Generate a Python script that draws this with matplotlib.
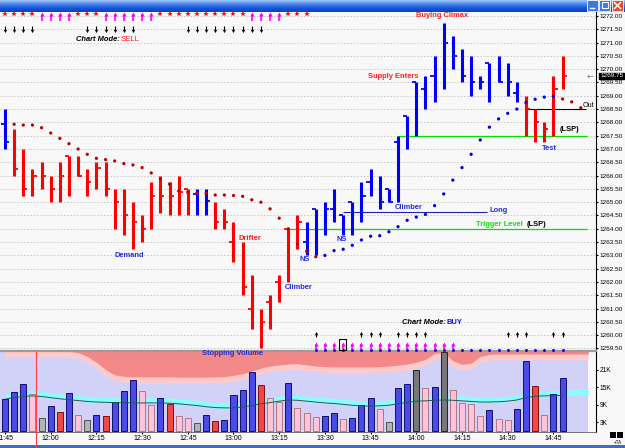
import numpy as np
import matplotlib
matplotlib.use('Agg')
import matplotlib.pyplot as plt
from matplotlib.patches import Rectangle
from matplotlib.lines import Line2D
from matplotlib.colors import LinearSegmentedColormap

plt.rcParams['font.family'] = ['Liberation Sans', 'DejaVu Sans']

W, H = 625, 448
nan = np.nan

# price bars (3 min)
highs = [1268.5, 1267.75, 1267.0, 1266.25, 1266.5, 1266.0, 1266.5, 1266.75, 1266.75, 1266.25,
         1266.5, 1266.5, 1265.5, 1265.5, 1265.0, 1264.5, 1265.75, 1266.0, 1265.75, 1266.0,
         1265.5, 1265.5, 1265.5, 1265.0, 1264.75, 1264.25, 1263.5, 1262.25, 1261.0, 1261.5,
         1262.25, 1264.0, 1264.5, 1264.25, 1264.75, 1265.0, 1265.5, 1264.5, 1265.0, 1265.75,
         1266.25, 1266.0, 1265.5, 1267.5, 1268.25, 1269.5, 1269.75, 1270.5, 1271.75, 1271.25,
         1270.75, 1270.5, 1269.75, 1270.25, 1270.5, 1270.25, 1269.5, 1269.0, 1268.5, 1268.0,
         1269.75, 1270.5]
lows = [1267.0, 1266.0, 1265.25, 1265.25, 1265.5, 1265.0, 1265.0, 1265.25, 1266.0, 1265.25,
        1265.5, 1265.25, 1264.0, 1263.75, 1263.25, 1263.5, 1264.0, 1264.6, 1264.5, 1264.5,
        1264.5, 1264.5, 1264.5, 1264.0, 1264.0, 1262.75, 1261.5, 1260.25, 1259.5, 1260.25,
        1261.25, 1262.0, 1263.25, 1263.0, 1263.0, 1263.75, 1264.25, 1263.75, 1263.75, 1264.25,
        1265.25, 1264.75, 1265.0, 1265.0, 1267.0, 1267.5, 1268.5, 1268.75, 1269.25, 1270.0,
        1269.5, 1269.0, 1269.25, 1268.75, 1269.5, 1269.0, 1268.75, 1267.5, 1267.25, 1267.25,
        1267.5, 1269.25]
opens = [1267.95, nan, nan, nan, nan, nan, nan, 1266.75, nan, nan,
         nan, nan, nan, nan, nan, nan, nan, nan, nan, nan,
         1265.5, 1265.3, nan, nan, nan, 1263.5, nan, 1261.0, nan, 1261.25,
         1262.0, 1264.0, nan, 1263.5, 1264.75, nan, 1264.75, 1264.5, 1265.0, nan,
         1265.75, nan, 1265.5, 1267.25, 1268.25, 1269.5, 1269.25, 1269.75, nan, nan,
         nan, nan, nan, 1270.25, nan, nan, 1269.1, nan, nan, nan,
         nan, nan]
closes = [1267.25, 1266.25, 1265.5, 1266.0, 1266.0, 1265.5, 1266.0, nan, 1266.0, 1265.75,
          1266.3, 1265.5, 1265.0, 1264.5, 1264.25, 1264.0, 1265.25, 1265.25, 1265.25, 1265.4,
          nan, nan, 1265.05, 1264.25, 1264.25, nan, 1261.8, nan, 1260.5, nan,
          nan, nan, 1264.25, nan, nan, 1264.75, nan, nan, nan, 1265.25,
          nan, 1265.0, 1265.0, nan, nan, nan, nan, nan, 1271.0, 1270.5,
          1269.75, 1269.5, 1269.5, nan, 1269.5, 1269.5, nan, 1268.5, 1268.0, 1267.75,
          1269.25, 1269.75]
bar_colors = "brrrrrrrrrrrrrrrrrrrrbbrrrrrrrrrrbbbbbbbbbbbbbbbbbbbbbbbbrrrrr"

# stop-and-reverse dots, bars 1..63
sar_vals = [1267.93, 1267.9, 1267.9, 1267.8, 1267.6, 1267.4, 1267.2, 1267.0, 1266.8, 1266.65,
            1266.6, 1266.55, 1266.45, 1266.4, 1266.3, 1266.1, 1265.88, 1265.68, 1265.42, 1265.38,
            1265.35, 1265.33, 1265.27, 1265.27, 1265.25, 1265.22, 1265.09, 1265.0, 1264.75, 1264.4,
            1264.0, 1263.43, 1263.15, 1262.95, 1263.0, 1263.18, 1263.23, 1263.38, 1263.58, 1263.72,
            1263.74, 1263.89, 1264.08, 1264.32, 1264.44, 1264.54, 1264.87, 1265.31, 1265.83, 1266.3,
            1266.8, 1267.34, 1267.82, 1268.13, 1268.34, 1268.5, 1268.75, 1268.87, 1268.95, 1268.98,
            1268.88, 1268.77, 1268.55]
sar_colors = "r" * 34 + "b" * 26 + "r" * 3

# volume (thousands)
vol = [10.8, 13.2, 16.0, 12.5, 4.3, 8.4, 6.6, 12.9, 5.6, 3.8,
       5.3, 5.0, 10.0, 13.8, 17.3, 13.6, 8.8, 11.4, 9.1, 5.0,
       4.4, 2.8, 5.3, 3.4, 3.8, 12.2, 14.1, 20.2, 15.6, 11.4,
       10.0, 16.5, 8.0, 6.0, 4.7, 5.2, 6.0, 4.1, 4.3, 9.0,
       11.4, 7.5, 3.0, 14.6, 16.1, 20.8, 14.6, 15.2, 26.9, 13.9,
       9.6, 9.1, 5.0, 7.1, 4.0, 3.7, 7.5, 23.8, 15.5, 5.3,
       12.5, 18.0]
vol_colors = "bbbpgbrbpgbrbbbppbrppgbrbbbbrppbpppbbpbbbpgbbkpbkppppbppbbrpbb"
vol_ma = [10.9, 11.4, 11.8, 12.0, 11.8, 11.4, 11.0, 10.7, 10.4, 10.1,
          9.9, 9.8, 9.7, 9.7, 9.6, 9.6, 9.6, 9.6, 9.5, 9.3,
          9.0, 8.7, 8.3, 8.0, 7.9, 7.9, 8.2, 8.7, 9.3, 9.7,
          10.2, 10.6, 10.5, 10.2, 9.9, 9.6, 9.4, 9.1, 8.8, 8.6,
          8.5, 8.6, 8.8, 9.3, 9.8, 10.2, 10.3, 10.5, 10.6, 10.5,
          10.3, 10.1, 9.9, 9.9, 10.0, 10.2, 10.6, 11.4, 11.9, 12.0,
          12.1, 12.2]
cyan_ext = [12.4, 12.6]
band_low = [27.3, 27.3, 27.3, 27.3, 27.3, 27.3, 27.3, 27.2, 26.8, 25.5,
            23.5, 21.0, 19.2, 18.7, 18.5, 18.5, 18.5, 18.5, 18.5, 18.4,
            18.4, 18.4, 18.4, 18.5, 18.6, 19.0, 19.6, 20.5, 21.5, 22.2,
            22.6, 22.9, 23.0, 22.6, 22.2, 22.0, 21.9, 21.9, 21.9, 21.9,
            21.9, 22.0, 22.2, 22.5, 22.9, 23.5, 24.5, 26.5, 26.8, 24.0,
            22.8, 23.2, 25.5, 26.2, 26.3, 26.3, 26.3, 26.3, 26.3, 26.3,
            26.3, 26.3, 26.3, 26.3]

times = ['11:45', '12:00', '12:15', '12:30', '12:45', '13:00', '13:15',
         '13:30', '13:45', '14:00', '14:15', '14:30', '14:45']
price_ticks = np.arange(1259.5, 1272.01, 0.5)
vol_ticks = [3, 9, 15, 21]
last_price = 1269.75

# signal rows
top_marks = "rrrrmmmmrrrmmmmmmrrrrrrrrrrmmmmrrr"
sell_arrows = [0, 1, 2, 3, 9, 10, 11, 12, 13, 14, 20, 21, 22, 23, 24, 25, 26, 27, 28]
buy_arrows = [34, 39, 40, 41, 43, 44, 45, 46, 55, 56, 57, 60, 61]
buy_magenta = list(range(34, 50))
buy_dots = list(range(34, 62))

# ---------------------------------------------------------------
fig = plt.figure(figsize=(W / 100, H / 100), dpi=100, facecolor='#F8F8F8')
ax = fig.add_axes([0, 97 / H, 596 / W, 339 / H], facecolor='#F8F8F8')
vax = fig.add_axes([0, 16 / H, 596 / W, 80 / H], facecolor='#F8F8F8')
ax.set_zorder(3)

x = np.arange(len(highs))
xl = (-5 / 9.14, 591 / 9.14)
ax.set_xlim(*xl)
ax.set_ylim(1259.406, 1272.15)

ax.set_yticks(price_ticks)
ax.set_yticklabels([f'{p:.2f}' for p in price_ticks])
ax.yaxis.tick_right()
ax.tick_params(axis='y', length=1.5, pad=1.2, labelsize=4.6, colors='black')
ax.set_xticks([])
ax.grid(axis='y', ls=(0, (2, 2)), color='#C4C4C4', lw=0.6)
for s in ['top', 'left']:
    ax.spines[s].set_visible(False)
ax.spines['right'].set_linewidth(0.8)
ax.spines['bottom'].set_color('#9C9C9C')
ax.spines['bottom'].set_linewidth(1.6)

# reference lines
ax.hlines(1264.0, 31, 63.7, color='#00E000', lw=0.9, zorder=2)
ax.hlines(1267.5, 43, 63.7, color='#00E000', lw=0.9, zorder=2)
ax.hlines(1264.65, 37, 52.7, color='#2020C0', lw=0.8, zorder=2)
ax.hlines(1268.5, 57, 63.6, color='black', lw=0.8, zorder=2)

# OHLC bars
bc = ['#0000FF' if c == 'b' else '#FF0000' for c in bar_colors]
ax.vlines(x, lows, highs, colors=bc, lw=2.2, zorder=3)
o = np.array(opens)
c = np.array(closes)
m = ~np.isnan(o)
ax.hlines(o[m], x[m] - 0.45, x[m], colors=np.array(bc)[m], lw=1.3, zorder=3)
m = ~np.isnan(c)
ax.hlines(c[m], x[m], x[m] + 0.45, colors=np.array(bc)[m], lw=1.3, zorder=3)

# SAR dots
sx = np.arange(1, len(sar_vals) + 1)
scol = ['#C00000' if k == 'r' else '#0000E0' for k in sar_colors]
ax.scatter(sx, sar_vals, s=5.5, c=scol, zorder=4, linewidths=0)

# signal rows at top
for i, k in enumerate(top_marks):
    if k == 'r':
        ax.plot(i, 1272.07, marker='*', ms=3.8, color='#FF0000', mew=0, clip_on=False, zorder=5)
    else:
        ax.vlines(i, 1271.82, 1272.06, color='#FF00FF', lw=1.2, zorder=5)
        ax.plot(i, 1272.07, marker='^', ms=3, color='#FF00FF', mew=0, clip_on=False, zorder=5)
ax.vlines(sell_arrows, 1271.47, 1271.62, color='black', lw=0.8, zorder=5)
ax.plot(sell_arrows, [1271.45] * len(sell_arrows), 'v', ms=2.4, color='black', mew=0, zorder=5)

# signal rows at bottom
ax.vlines(buy_arrows, 1259.92, 1260.04, color='black', lw=0.8, zorder=5)
ax.plot(buy_arrows, [1260.07] * len(buy_arrows), '^', ms=2.4, color='black', mew=0, zorder=5)
ax.vlines(buy_magenta, 1259.48, 1259.66, color='#FF00FF', lw=1.2, zorder=5)
ax.plot(buy_magenta, [1259.68] * len(buy_magenta), '^', ms=3, color='#FF00FF', mew=0, zorder=5)
ax.plot(buy_dots, [1259.45] * len(buy_dots), 'o', ms=2.2, color='#1010E0', mew=0,
        clip_on=False, zorder=5)
ax.add_patch(Rectangle((36.58, 1259.44), 0.69, 0.42, fill=False, ec='black', lw=0.8,
                       zorder=6, clip_on=False))

# annotations
tk = dict(fontsize=5.4, fontweight='bold', zorder=7)
ax.text(7.77, 1271.1, 'Chart Mode:', color='black', style='italic', va='center', ha='left', **tk)
ax.text(12.66, 1271.1, 'SELL', color='#FF2020', va='center', ha='left',
        fontsize=5.6, zorder=7)
ax.text(43.4, 1260.46, 'Chart Mode:', color='black', style='italic', va='center', ha='left', **tk)
ax.text(48.33, 1260.46, 'BUY', color='#1010E0', va='center', ha='left', **tk)
ax.text(47.8, 1272.0, 'Buying Climax', color='#FF2020', ha='center', va='center', **tk)
ax.text(42.45, 1269.74, 'Supply Enters', color='#FF2020', ha='center', va='center', **tk)
ax.text(13.64, 1263.0, 'Demand', color='#2030D0', ha='center', va='center', **tk)
ax.text(26.8, 1263.64, 'Drifter', color='#FF2020', ha='center', va='center', **tk)
ax.text(32.8, 1262.85, 'NS', color='#2030D0', ha='center', va='center', **tk)
ax.text(36.87, 1263.58, 'NS', color='#2030D0', ha='center', va='center', **tk)
ax.text(32.17, 1261.81, 'Climber', color='#2030D0', ha='center', va='center', **tk)
ax.text(44.2, 1264.81, 'Climber', color='#2030D0', ha='center', va='center', **tk)
ax.text(53.06, 1264.67, 'Long', color='#2030D0', ha='left', va='center', **tk)
ax.text(51.53, 1264.16, 'Trigger Level', color='#10E010', ha='left', va='center', **tk)
ax.text(57.1, 1264.16, '(LSP)', color='black', ha='left', va='center', **tk)
ax.text(60.7, 1267.74, '(LSP)', color='black', ha='left', va='center', **tk)
ax.text(59.57, 1267.03, 'Test', color='#2030D0', ha='center', va='center', **tk)
ax.text(63.2, 1268.62, 'Out', color='black', ha='left', va='center', clip_on=False,
        fontsize=5.2, zorder=7)
ax.text(24.93, 1259.33, 'Stopping Volume', color='#2030D0', ha='center', va='center',
        clip_on=False, **tk)

# last price box
yt = ax.get_yaxis_transform()
ax.text(1.0 + 4 / 596, last_price, f'{last_price:.2f}', transform=yt, color='white',
        fontsize=4.6, ha='left', va='center', zorder=8, clip_on=False,
        bbox=dict(boxstyle='square,pad=0.1', fc='black', ec='black'))
ax.text(0.985, last_price, '\u2190', transform=yt, color='#808080', fontsize=6,
        ha='left', va='center', zorder=8, clip_on=False, family=['DejaVu Sans'])

# ---------------- volume panel ----------------
vax.set_xlim(*xl)
vax.set_ylim(-0.34, 27.0)
xb = np.r_[np.arange(len(band_low) - 1), 63.8]
vax.fill_between([xl[0], 63.8], -1, 28, color='#D2D2F8', lw=0, zorder=0)
vax.fill_between(xb, np.array(band_low) - 2.0, 28, color='#FFCACA', lw=0, zorder=1)
vax.fill_between(xb, band_low, 28, color='#F28888', lw=0, zorder=1)
ma_ext = np.r_[vol_ma, cyan_ext]
vax.fill_between(xb, ma_ext - 0.2, ma_ext + 1.7, color='#88FFFF', lw=0, zorder=1)

vfill = {'b': '#4A4AE8', 'p': '#FFC4D8', 'r': '#F04848', 'g': '#B4B4B4', 'k': '#787878'}
vedge = {'b': '#10106A', 'p': '#B07888', 'r': '#801010', 'g': '#505050', 'k': '#202020'}
xv = np.arange(len(vol))
vax.bar(xv, vol, width=0.66, color=[vfill[k] for k in vol_colors],
        edgecolor=[vedge[k] for k in vol_colors], lw=0.7, zorder=2)
vax.plot(xv, vol_ma, color='#305050', lw=0.7, zorder=3)

vax.yaxis.tick_right()
vax.set_yticks(vol_ticks)
vax.set_yticklabels([f'{v}K' for v in vol_ticks])
vax.tick_params(axis='y', length=1.5, pad=1.2, labelsize=4.8)
vax.set_xticks(np.arange(0, 5 * len(times), 5))
vax.set_xticklabels(times)
vax.tick_params(axis='x', length=1.5, pad=0.8, labelsize=5)
for s in ['top', 'left']:
    vax.spines[s].set_visible(False)
vax.spines['right'].set_linewidth(0.8)
vax.spines['bottom'].set_linewidth(0.6)
vax.spines['bottom'].set_color('#606060')

# cursor line
fig.add_artist(Line2D([36 / W, 36 / W], [0, 96 / H], color='#FF4040', lw=0.8))

# ---------------- window chrome ----------------
tb = fig.add_axes([0, 1 - 12 / H, 1, 12 / H])
cm = LinearSegmentedColormap.from_list('tb', ['#9CC4F6', '#4A86EA', '#1658D8', '#0B44B8'])
tb.imshow(np.linspace(0, 1, 24)[:, None], aspect='auto', cmap=cm, extent=[0, W, 12, 0])
tb.set_xlim(0, W)
tb.set_ylim(12, 0)
tb.axis('off')
for bx, fc in [(587, '#3A78EC'), (599, '#3A78EC'), (612, '#E2512E')]:
    tb.add_patch(Rectangle((bx, 0.5), 11, 10.5, fc=fc, ec='white', lw=0.6))
tb.plot([589.5, 593.5], [8.5, 8.5], color='white', lw=1)
tb.add_patch(Rectangle((601.5, 2.5), 6, 6, fill=False, ec='white', lw=0.8))
tb.plot([614.5, 620.5], [2.5, 8.5], color='white', lw=1)
tb.plot([614.5, 620.5], [8.5, 2.5], color='white', lw=1)

fig.add_artist(Rectangle((0, 0), 1, 3 / H, transform=fig.transFigure,
                         fc='#3C6CC4', ec='none'))
for bx in [610, 617]:
    fig.add_artist(Rectangle((bx / W, 10 / H), 6 / W, 6 / H, transform=fig.transFigure,
                             fc='black', ec='none'))
fig.text(614 / W, 5.5 / H, '+TA', fontsize=3.3, color='black', va='center')

fig.savefig('out.png', dpi=100, facecolor=fig.get_facecolor())
